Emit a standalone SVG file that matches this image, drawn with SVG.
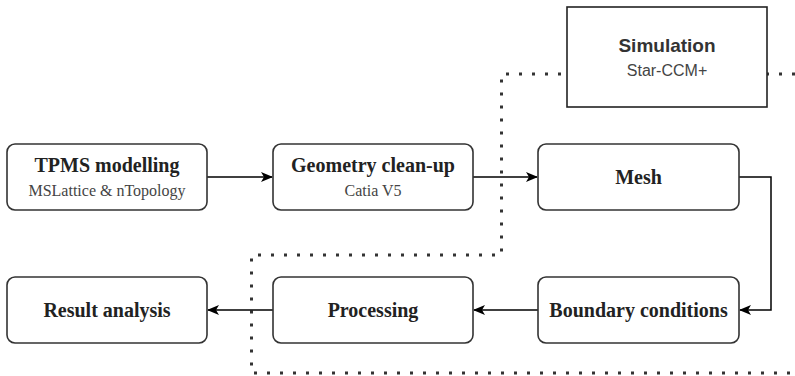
<svg xmlns="http://www.w3.org/2000/svg" width="795" height="376" viewBox="0 0 795 376">
<defs>
<marker id="arr" viewBox="0 0 12 10" refX="11" refY="5" markerWidth="12" markerHeight="10" markerUnits="userSpaceOnUse" orient="auto">
<path d="M0,0 L12,5 L0,10 L3,5 z" fill="#000"/>
</marker>
<style>
.box{fill:#fff;stroke:#333;stroke-width:1.6}
.t{font-family:"Liberation Serif","Times New Roman",serif;font-weight:bold;font-size:20px;fill:#222;text-anchor:middle}
.s{font-family:"Liberation Serif","Times New Roman",serif;font-size:16px;fill:#444;text-anchor:middle}
.edge{fill:none;stroke:#000;stroke-width:1.5;marker-end:url(#arr)}
.dot{fill:none;stroke:#333;stroke-width:3;stroke-dasharray:3 10}
</style>
</defs>
<rect width="795" height="376" fill="#fff"/>
<g id="boundary">
<path class="dot" d="M795,74 H501.5 V255 H251.5 V373 H795"/>
</g>
<g id="simulation">
<rect x="567" y="7" width="200" height="100" fill="#fff" stroke="#222" stroke-width="1.6"/>
<text x="667" y="52" font-family="'Liberation Sans',Arial,sans-serif" font-weight="bold" font-size="19" fill="#333" text-anchor="middle">Simulation</text>
<text x="667" y="76" font-family="'Liberation Sans',Arial,sans-serif" font-size="16" fill="#444" text-anchor="middle">Star-CCM+</text>
</g>
<g id="connectors">
<path class="edge" d="M207,177 H272"/>
<path class="edge" d="M473,177 H537"/>
<path class="edge" d="M739,177 H771 V310 H740"/>
<path class="edge" d="M538,310 H474"/>
<path class="edge" d="M273,310 H208"/>
</g>
<g id="tpms">
<rect class="box" x="7" y="144" width="200" height="66" rx="8"/>
<text class="t" x="107" y="172">TPMS modelling</text>
<text class="s" x="107" y="196">MSLattice &amp; nTopology</text>
</g>
<g id="geometry">
<rect class="box" x="273" y="144" width="200" height="66" rx="8"/>
<text class="t" x="373" y="172">Geometry clean-up</text>
<text class="s" x="373" y="196">Catia V5</text>
</g>
<g id="mesh">
<rect class="box" x="538" y="144" width="201" height="66" rx="8"/>
<text class="t" x="638.5" y="184">Mesh</text>
</g>
<g id="boundaryconditions">
<rect class="box" x="538" y="277" width="201" height="66" rx="8"/>
<text class="t" x="638.5" y="317">Boundary conditions</text>
</g>
<g id="processing">
<rect class="box" x="273" y="277" width="200" height="66" rx="8"/>
<text class="t" x="373" y="317">Processing</text>
</g>
<g id="result">
<rect class="box" x="7" y="277" width="200" height="66" rx="8"/>
<text class="t" x="107" y="317">Result analysis</text>
</g>
</svg>
